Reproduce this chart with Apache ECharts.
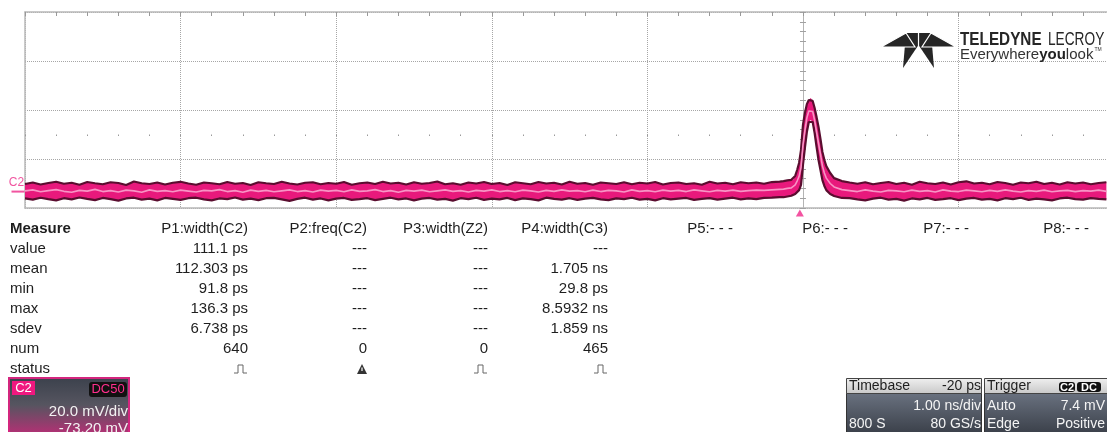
<!DOCTYPE html>
<html><head><meta charset="utf-8">
<script src="https://cdn.jsdelivr.net/npm/echarts@6/dist/echarts.min.js"></script>
<style>html,body{margin:0;padding:0;background:#fff}#c{width:1107px;height:432px}</style>
</head><body><div id="c"></div><script>
// ---------------- data (time in ns, amplitude in mV) ----------------
const times = [
-5.00,-4.95,-4.90,-4.85,-4.80,-4.75,-4.70,-4.65,-4.60,-4.55,
-4.50,-4.45,-4.40,-4.35,-4.30,-4.25,-4.20,-4.15,-4.10,-4.05,
-4.00,-3.95,-3.90,-3.85,-3.80,-3.75,-3.70,-3.65,-3.60,-3.55,
-3.50,-3.45,-3.40,-3.35,-3.30,-3.25,-3.20,-3.15,-3.10,-3.05,
-3.00,-2.95,-2.90,-2.85,-2.80,-2.75,-2.70,-2.65,-2.60,-2.55,
-2.50,-2.45,-2.40,-2.35,-2.30,-2.25,-2.20,-2.15,-2.10,-2.05,
-2.00,-1.95,-1.90,-1.85,-1.80,-1.75,-1.70,-1.65,-1.60,-1.55,
-1.50,-1.45,-1.40,-1.35,-1.30,-1.25,-1.20,-1.15,-1.10,-1.05,
-1.00,-0.95,-0.90,-0.85,-0.80,-0.75,-0.70,-0.65,-0.60,-0.55,
-0.50,-0.45,-0.40,-0.35,-0.30,-0.25,-0.20,-0.15,
-0.125,-0.1,-0.0875,-0.075,-0.0625,-0.05,-0.0375,-0.025,-0.0125,0,
0.0125,0.025,0.0375,0.05,0.0625,0.075,0.0875,0.1,0.1125,0.125,
0.1375,0.15,0.175,0.2,0.25,
0.30,0.35,0.40,0.45,0.50,0.55,0.60,0.65,0.70,0.75,
0.80,0.85,0.90,0.95,1.00,1.05,1.10,1.15,1.20,1.25,
1.30,1.35,1.40,1.45,1.50,1.55,1.60,1.65,1.70,1.75,
1.80,1.85,1.90,1.95
];
const upperEnvMv = [
-20.2,-19.6,-20.4,-19.8,-19.3,-20.1,-19.7,-20.5,-19.4,-19.9,
-20.3,-19.5,-19.8,-20.6,-19.2,-19.9,-20.2,-19.6,-20.4,-19.7,
-19.3,-20.0,-20.5,-19.6,-19.9,-20.3,-19.4,-20.1,-19.8,-20.6,
-19.5,-19.9,-20.2,-19.3,-20.0,-20.4,-19.7,-19.5,-20.3,-19.8,
-20.1,-19.4,-20.5,-19.9,-19.6,-20.2,-19.3,-20.0,-19.7,-20.4,
-19.5,-20.1,-19.8,-19.2,-20.3,-19.9,-20.5,-19.6,-20.0,-19.4,
-20.2,-19.8,-20.6,-19.5,-19.9,-20.3,-19.4,-20.0,-19.7,-20.4,
-19.3,-20.1,-19.8,-20.5,-19.6,-19.9,-20.2,-19.5,-20.3,-19.7,
-20.0,-19.4,-20.4,-19.8,-19.6,-20.2,-19.9,-20.5,-19.3,-20.0,
-19.7,-20.3,-19.5,-19.9,-19.6,-20.1,-19.4,-19.2,
-19.0,-18.7,-18.9,-18.5,-18.4,-16.9,-14.5,-11.6,-6.3,3.9,
8.8,12.4,14.1,14.9,13.7,10.8,7.1,3.1,-1.8,-7.1,
-10.4,-12.9,-15.7,-17.8,-19.0,
-19.6,-20.1,-19.5,-20.3,-19.8,-19.4,-20.2,-19.7,-20.5,-19.3,
-19.9,-20.2,-19.6,-20.4,-19.5,-19.1,-20.0,-19.7,-20.3,-19.4,
-19.8,-20.5,-19.6,-19.9,-19.3,-20.2,-19.7,-20.4,-19.5,-20.0,
-19.6,-20.3,-19.8,-19.5
];
const lowerEnvMv = [
-26.1,-26.6,-25.8,-26.4,-26.9,-26.0,-26.5,-25.7,-26.3,-26.8,
-25.9,-26.4,-27.0,-26.1,-25.8,-26.6,-26.2,-26.9,-25.9,-26.3,
-26.7,-26.0,-25.8,-26.5,-26.9,-26.1,-26.4,-25.7,-26.6,-26.2,
-26.8,-26.0,-25.9,-26.5,-27.1,-26.3,-25.8,-26.6,-26.1,-26.9,
-26.2,-25.9,-26.7,-26.4,-26.0,-26.8,-26.3,-25.8,-26.5,-26.1,
-26.9,-26.2,-25.9,-26.6,-26.3,-27.0,-26.0,-26.4,-25.8,-26.7,
-26.2,-26.5,-25.9,-26.8,-26.1,-26.4,-26.9,-25.8,-26.3,-26.6,
-26.0,-26.7,-26.2,-25.9,-26.5,-26.8,-26.1,-26.4,-25.8,-26.6,
-26.3,-26.9,-26.0,-26.5,-26.2,-25.9,-26.7,-26.3,-26.0,-26.6,
-26.2,-25.8,-26.5,-26.1,-26.4,-25.9,-25.8,-25.6,
-25.6,-25.3,-25.1,-25.0,-24.7,-24.3,-23.5,-22.7,-20.6,-12.4,
-5.5,1.0,5.1,5.9,5.1,0.6,-5.1,-10.4,-14.5,-18.6,
-21.0,-22.7,-24.3,-25.1,-25.9,
-26.0,-26.5,-26.9,-26.2,-25.8,-26.6,-26.3,-27.0,-26.1,-26.5,
-25.9,-26.7,-26.4,-26.0,-26.8,-26.2,-25.9,-26.6,-26.3,-26.9,
-26.0,-26.4,-25.8,-26.7,-26.2,-26.5,-26.9,-26.1,-25.8,-26.4,
-26.6,-26.0,-26.3,-26.5
];
const midTraceMv = [
-23.0,-22.6,-23.4,-22.9,-22.5,-23.2,-23.6,-22.8,-23.1,-22.4,
-23.3,-22.9,-23.5,-22.7,-23.0,-23.6,-22.6,-23.2,-22.9,-23.4,
-22.7,-23.1,-23.5,-22.8,-23.0,-22.5,-23.3,-22.9,-23.6,-22.7,
-23.2,-22.8,-23.4,-23.0,-22.6,-23.3,-22.9,-23.5,-22.7,-23.1,
-22.8,-23.4,-22.6,-23.2,-23.0,-22.5,-23.3,-22.9,-23.6,-22.8,
-23.1,-22.7,-23.4,-23.0,-22.6,-23.2,-22.9,-23.5,-22.8,-23.1,
-22.6,-23.3,-22.9,-23.4,-22.7,-23.0,-23.5,-22.8,-23.2,-22.6,
-23.1,-22.9,-23.4,-22.7,-23.3,-22.8,-23.0,-23.5,-22.6,-23.2,
-22.9,-23.4,-22.7,-23.1,-22.8,-23.3,-22.6,-23.0,-23.4,-22.8,
-23.1,-22.7,-23.2,-22.9,-22.7,-22.8,-22.6,-22.4,
-22.3,-22.0,-22.1,-21.8,-21.5,-20.6,-19.0,-17.1,-13.4,-4.2,
1.7,6.7,9.6,10.4,9.4,5.7,1.0,-3.6,-8.1,-12.8,
-15.7,-17.8,-20.0,-21.4,-22.5,
-22.9,-23.3,-22.6,-23.1,-23.5,-22.8,-23.0,-23.4,-22.7,-23.2,
-22.9,-23.5,-22.6,-23.1,-23.3,-22.7,-23.0,-23.4,-22.8,-23.2,
-22.6,-23.1,-23.5,-22.9,-23.2,-22.7,-23.4,-23.0,-22.8,-23.3,
-22.9,-23.1,-22.7,-23.2
];
const triggerDelayNs = -0.02;
const channelOffsetMv = -23.3;
const channelName = 'C2';
const xMinNs = -5, xMaxNs = 1.954, xDivNs = 1, xMinorNs = 0.2;
const yMinMv = -30, yMaxMv = 50, yDivMv = 20, yMinorMv = 4;

const measureTitle = 'Measure';
const measureRows = ['value', 'mean', 'min', 'max', 'sdev', 'num', 'status'];
const paramHeaders = ['P1:width(C2)', 'P2:freq(C2)', 'P3:width(Z2)', 'P4:width(C3)', 'P5:- - -', 'P6:- - -', 'P7:- - -', 'P8:- - -'];
const p1Values = ['111.1 ps', '112.303 ps', '91.8 ps', '136.3 ps', '6.738 ps', '640'];
const p2Values = ['---', '---', '---', '---', '---', '0'];
const p3Values = ['---', '---', '---', '---', '---', '0'];
const p4Values = ['---', '1.705 ns', '29.8 ps', '8.5932 ns', '1.859 ns', '465'];
const paramStatus = ['pulse', 'warn', 'pulse', 'pulse'];

const chDescriptor = { coupling: 'DC50', vdiv: '20.0 mV/div', offset: '-73.20 mV' };
const timebaseInfo = { delay: '-20 ps', tdiv: '1.00 ns/div', samples: '800 S', rate: '80 GS/s' };
const triggerInfo = { src: 'C2', coupling: 'DC', mode: 'Auto', level: '7.4 mV', type: 'Edge', slope: 'Positive' };

// ---------------- build ----------------
const PINK = '#e8197c', DARK = '#5a0d2f', LIGHT = '#f794c4';
const FONT = '"Liberation Sans", Arial, sans-serif';
const bandRows = times.map((t, i) => [t, lowerEnvMv[i], upperEnvMv[i]]);
const upperPts = times.map((t, i) => [t, upperEnvMv[i]]);
const lowerPts = times.map((t, i) => [t, lowerEnvMv[i]]);
const midPts = times.map((t, i) => [t, midTraceMv[i]]);

const G = [];
function txt(x, y, text, opt) {
  opt = opt || {};
  G.push({ type: 'text', x: x, y: y, scaleX: opt.sx || 1, z: 10,
    style: { text: text, fill: opt.fill || '#1e1e1e', font: (opt.weight || 'normal') + ' ' + (opt.size || 15) + 'px ' + FONT,
      align: opt.align || 'left', verticalAlign: 'middle', rich: opt.rich } });
}
function rect(x, y, w, h, fill, stroke, lw, r) {
  G.push({ type: 'rect', z: 5, shape: { x: x, y: y, width: w, height: h, r: r || 0 },
    style: { fill: fill, stroke: stroke || null, lineWidth: lw || 0 } });
}
// measurement table
const colRight = [248, 367, 488, 608, 733, 848, 969, 1089];
const headY = 229, rowY0 = 249, rowDy = 20;
txt(10, headY, measureTitle, { weight: 'bold' });
measureRows.forEach((r, i) => txt(10, rowY0 + i * rowDy, r));
paramHeaders.forEach((h, i) => txt(colRight[i], headY, h, { align: 'right' }));
[p1Values, p2Values, p3Values, p4Values].forEach((vals, c) => {
  vals.forEach((v, r) => txt(colRight[c], rowY0 + r * rowDy, v, { align: 'right' }));
});
const stY = rowY0 + 6 * rowDy;
paramStatus.forEach((s, c) => {
  const rx = colRight[c];
  if (s === 'pulse') {
    G.push({ type: 'polyline', z: 10, shape: { points: [[rx - 14, stY + 4], [rx - 10, stY + 4], [rx - 10, stY - 4], [rx - 5, stY - 4], [rx - 5, stY + 4], [rx - 1, stY + 4]] },
      style: { stroke: '#666', fill: null, lineWidth: 1 } });
  } else {
    G.push({ type: 'polygon', z: 10, shape: { points: [[rx - 10, stY + 5], [rx - 5, stY - 5], [rx, stY + 5]] }, style: { fill: '#333' } });
    G.push({ type: 'line', z: 11, shape: { x1: rx - 5, y1: stY - 1.5, x2: rx - 5, y2: stY + 2 }, style: { stroke: '#fff', lineWidth: 1.2 } });
  }
});
// channel descriptor box
rect(9, 378, 120, 60, new echarts.graphic.LinearGradient(0, 0, 0, 1, [
  { offset: 0, color: '#3b414c' }, { offset: 0.45, color: '#565560' }, { offset: 1, color: '#c42a78' }]), '#d3267e', 2);
rect(12, 381, 23, 14, '#f0187f');
txt(23.5, 388.5, channelName, { align: 'center', fill: '#fff', size: 13 });
rect(89, 382, 38, 15, '#111', null, 0, 3);
txt(108, 389.5, chDescriptor.coupling, { align: 'center', fill: '#ff2f8e', size: 13 });
txt(128, 411.5, chDescriptor.vdiv, { align: 'right', fill: '#f2f2f2' });
txt(128, 428.5, chDescriptor.offset, { align: 'right', fill: '#f2f2f2' });
// timebase box
const bodyGrad = () => new echarts.graphic.LinearGradient(0, 0, 0, 1, [{ offset: 0, color: '#6a7280' }, { offset: 1, color: '#353a43' }]);
const headGrad = () => new echarts.graphic.LinearGradient(0, 0, 0, 1, [{ offset: 0, color: '#f0f0f0' }, { offset: 1, color: '#c8c8c8' }]);
rect(846.5, 393, 135, 45, bodyGrad(), '#333', 1);
rect(846.5, 378.5, 135, 15, headGrad(), '#444', 1);
txt(849, 386.5, 'Timebase', { size: 14 });
txt(981, 386.5, timebaseInfo.delay, { size: 14, align: 'right' });
txt(981, 406, timebaseInfo.tdiv, { size: 14, align: 'right', fill: '#f4f4f4' });
txt(849, 424.5, timebaseInfo.samples, { size: 14, fill: '#f4f4f4' });
txt(981, 424.5, timebaseInfo.rate, { size: 14, align: 'right', fill: '#f4f4f4' });
// trigger box
rect(984.5, 393, 125, 45, bodyGrad(), '#333', 1);
rect(984.5, 378.5, 125, 15, headGrad(), '#444', 1);
txt(987, 386.5, 'Trigger', { size: 14 });
rect(1059, 382, 16, 10, '#111', null, 0, 3);
rect(1077, 382, 24, 10, '#111', null, 0, 3);
txt(1067, 387.5, triggerInfo.src, { size: 11, align: 'center', fill: '#fff', weight: 'bold' });
txt(1089, 387.5, triggerInfo.coupling, { size: 11, align: 'center', fill: '#fff', weight: 'bold' });
txt(987, 406, triggerInfo.mode, { size: 14, fill: '#f4f4f4' });
txt(1105, 406, triggerInfo.level, { size: 14, align: 'right', fill: '#f4f4f4' });
txt(987, 424.5, triggerInfo.type, { size: 14, fill: '#f4f4f4' });
txt(1105, 424.5, triggerInfo.slope, { size: 14, align: 'right', fill: '#f4f4f4' });
// logo
const logoStems = [
  [[906, 33], [918.5, 33], [918.5, 45], [903, 68]],
  [[931, 33], [918.5, 33], [918.5, 45], [934, 68]]
];
const logoWings = [
  [[881, 47], [906, 33], [915, 47]],
  [[956, 47], [931, 33], [922, 47]]
];
logoStems.forEach(p => G.push({ type: 'polygon', z: 10, shape: { points: p }, style: { fill: '#262626' } }));
logoWings.forEach(p => G.push({ type: 'polygon', z: 11, shape: { points: p }, style: { fill: '#262626', stroke: '#fff', lineWidth: 1.2 } }));
G.push({ type: 'line', z: 12, shape: { x1: 918.5, y1: 33, x2: 918.5, y2: 46 }, style: { stroke: '#fff', lineWidth: 1.2 } });
txt(960, 40, 'TELEDYNE', { size: 18, weight: 'bold', sx: 0.85, fill: '#262626' });
txt(1048, 40, 'LECROY', { size: 18, sx: 0.76, fill: '#262626' });
txt(960, 55, '{a|Everywhere}{b|you}{a|look}{c|TM}', { size: 15, fill: '#333', rich: {
  a: { font: '15px ' + FONT, fill: '#333' }, b: { font: 'bold 15px ' + FONT, fill: '#222' },
  c: { font: '5px ' + FONT, fill: '#333', verticalAlign: 'top', padding: [0, 0, 8, 1] } } });

const gridColor = '#a6a6a6';
const option = {
  animation: false,
  backgroundColor: '#ffffff',
  grid: { left: 25, right: 0, top: 12, height: 196, containLabel: false },
  xAxis: [
    { type: 'value', min: xMinNs, max: xMaxNs, interval: xDivNs, position: 'bottom',
      axisLine: { onZero: false, lineStyle: { color: '#b8b8b8', width: 1.5 } }, axisTick: { show: false }, axisLabel: { show: false },
      splitLine: { show: true, lineStyle: { color: gridColor, width: 1, type: [1, 1] } } },
    { type: 'value', min: xMinNs, max: xMaxNs, interval: xMinorNs, position: 'top',
      axisLine: { onZero: false, lineStyle: { color: '#b8b8b8', width: 1.5 } },
      axisTick: { show: true, inside: true, length: 4, lineStyle: { color: '#999' } }, axisLabel: { show: false }, splitLine: { show: false } },
    { type: 'value', min: xMinNs, max: xMaxNs, interval: xMinorNs, position: 'bottom',
      axisLine: { show: false, onZero: true, onZeroAxisIndex: 0 },
      axisTick: { show: true, length: 1.5, lineStyle: { color: '#9a9a9a' } }, axisLabel: { show: false }, splitLine: { show: false } }
  ],
  yAxis: [
    { type: 'value', min: yMinMv, max: yMaxMv, interval: yDivMv, position: 'left',
      axisLine: { show: true, onZero: false, lineStyle: { color: '#b8b8b8', width: 1.5 } }, axisTick: { show: false }, axisLabel: { show: false },
      splitLine: { show: true, lineStyle: { color: gridColor, width: 1, type: [1, 1] } } },
    { type: 'value', min: yMinMv, max: yMaxMv, interval: yMinorMv, position: 'left',
      axisLine: { show: true, onZero: true, onZeroAxisIndex: 0, lineStyle: { color: '#b4b4b4', width: 1 } },
      axisTick: { show: true, length: 3, lineStyle: { color: '#a0a0a0' } }, axisLabel: { show: false }, splitLine: { show: false } },
    { type: 'value', min: yMinMv, max: yMaxMv, interval: yMinorMv, position: 'left',
      axisLine: { show: false, onZero: true, onZeroAxisIndex: 0 },
      axisTick: { show: true, inside: true, length: 3, lineStyle: { color: '#a0a0a0' } }, axisLabel: { show: false }, splitLine: { show: false } }
  ],
  series: [
    { type: 'custom', data: bandRows, encode: { x: 0, y: [1, 2] }, silent: true, z: 3,
      renderItem: function (params, api) {
        if (params.dataIndex !== 0) return null;
        const pts = [];
        for (let i = 0; i < bandRows.length; i++) pts.push(api.coord([bandRows[i][0], bandRows[i][2]]));
        for (let i = bandRows.length - 1; i >= 0; i--) pts.push(api.coord([bandRows[i][0], bandRows[i][1]]));
        return { type: 'polygon', shape: { points: pts }, style: { fill: PINK } };
      } },
    { type: 'line', data: upperPts, symbol: 'none', silent: true, lineStyle: { color: DARK, width: 2.2 }, z: 4 },
    { type: 'line', data: lowerPts, symbol: 'none', silent: true, lineStyle: { color: DARK, width: 2.2 }, z: 4 },
    { type: 'line', data: midPts, symbol: 'none', silent: true, lineStyle: { color: LIGHT, width: 1.6 }, z: 4 },
    { type: 'scatter', data: [[triggerDelayNs, yMinMv]], symbol: 'triangle', symbolSize: [8, 7], symbolOffset: [0, 5], clip: false, silent: true,
      itemStyle: { color: '#f0288a' }, z: 6 },
    { type: 'scatter', data: [[xMinNs, channelOffsetMv]], symbol: 'rect', symbolSize: [13, 2], symbolOffset: [-7, 0], clip: false, silent: true,
      itemStyle: { color: '#ee2a88' }, z: 6,
      label: { show: true, formatter: channelName, position: 'top', distance: 2, offset: [-1.5, 0], color: '#ee2a88', fontSize: 12, fontFamily: FONT } }
  ],
  graphic: { elements: G }
};
const chart = echarts.init(document.getElementById('c'), null, { renderer: 'canvas' });
chart.setOption(option);
</script></body></html>
